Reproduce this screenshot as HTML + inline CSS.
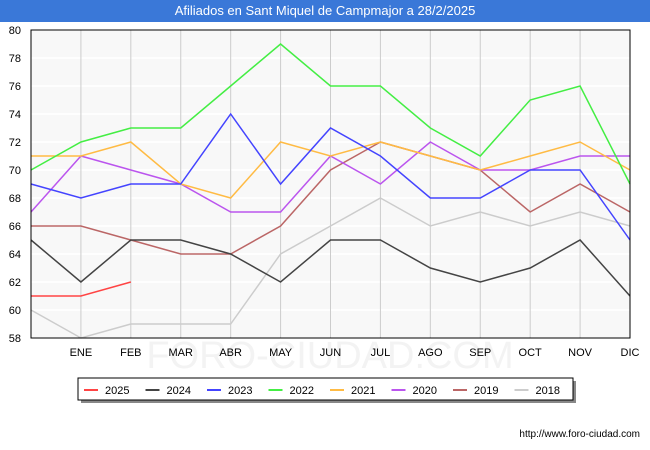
<!DOCTYPE html>
<html><head><meta charset="utf-8"><style>
body{margin:0;width:650px;height:450px;background:#fff;font-family:"Liberation Sans","DejaVu Sans",sans-serif;overflow:hidden}
#title{position:absolute;left:0;top:0;width:650px;height:22px;background:#3a78d8;color:#fff;font-size:13px;text-align:center;line-height:22px}
svg{position:absolute;left:0;top:0}
</style></head><body>
<div id="title">Afiliados en Sant Miquel de Campmajor a 28/2/2025</div>
<svg id="c" width="650" height="450"></svg>
<script>
const months=["","ENE","FEB","MAR","ABR","MAY","JUN","JUL","AGO","SEP","OCT","NOV","DIC"];
const yTicks=[58,60,62,64,66,68,70,72,74,76,78,80];
const seriesNames=["2025","2024","2023","2022","2021","2020","2019","2018"];
const colors=["#ff4444","#444444","#4444ff","#44ee44","#ffbb44","#bb55ee","#bb6666","#cccccc"];
const s2025=[61,61,62];
const s2024=[65,62,65,65,64,62,65,65,63,62,63,65,61];
const s2023=[69,68,69,69,74,69,73,71,68,68,70,70,65];
const s2022=[70,72,73,73,76,79,76,76,73,71,75,76,69];
const s2021=[71,71,72,69,68,72,71,72,71,70,71,72,70];
const s2020=[67,71,70,69,67,67,71,69,72,70,70,71,71];
const s2019=[66,66,65,64,64,66,70,72,71,70,67,69,67];
const s2018=[60,58,59,59,59,64,66,68,66,67,66,67,66];
const allSeries=[s2025,s2024,s2023,s2022,s2021,s2020,s2019,s2018];
const L=31,R=630,T=30,B=338,ymin=58,ymax=80;
const X=i=>L+(R-L)*i/12, Y=v=>B-(v-ymin)/(ymax-ymin)*(B-T);
const svg=document.getElementById('c');const NS="http://www.w3.org/2000/svg";
function mk(t,a,p){const e=document.createElementNS(NS,t);for(const k in a)e.setAttribute(k,a[k]);(p||svg).appendChild(e);return e;}
const wm=mk('text',{x:330,y:368,'text-anchor':'middle','font-size':38,fill:'#f3f3f3'});wm.textContent='FORO-CIUDAD.COM';

mk('rect',{x:L,y:T,width:R-L,height:B-T,fill:'#f8f8f8'});
for(let i=0;i<yTicks.length;i++){const v=yTicks[i];
 const g=mk('line',{x1:L,x2:R,y1:Y(v),y2:Y(v),stroke:'#ffffff','stroke-width':1.5});
 
 const t=mk('text',{x:L-10,y:Y(v)+4,'text-anchor':'end','font-size':11,fill:'#000'});t.textContent=v;
 }
for(let i=1;i<months.length;i++){
 const g=mk('line',{x1:X(i),x2:X(i),y1:T,y2:B,stroke:'#cccccc','stroke-width':1});
 
 const t=mk('text',{x:X(i),y:B+18,'text-anchor':'middle','font-size':11,fill:'#000'});t.textContent=months[i];
 }
for(let s=allSeries.length-1;s>=0;s--){const d=allSeries[s];
 const p=mk('polyline',{points:d.map((v,i)=>X(i)+','+Y(v)).join(' '),fill:'none',stroke:colors[s],'stroke-width':1.5});
 }
mk('rect',{x:L,y:T,width:R-L,height:B-T,fill:'none',stroke:'#000','stroke-width':1});
const lg=mk('g',{});
mk('rect',{x:81,y:381,width:495,height:22,fill:'#888'},lg);
mk('rect',{x:78,y:378,width:495,height:22,fill:'#fff',stroke:'#000','stroke-width':1},lg);
for(let s=0;s<seriesNames.length;s++){const x=84+s*61.5;
 const e=mk('g',{},lg);
 mk('line',{x1:x,x2:x+14,y1:390,y2:390,stroke:colors[s],'stroke-width':2},e);
 const t=mk('text',{x:x+21,y:394,'font-size':11,fill:'#000'},e);t.textContent=seriesNames[s];}
const u=mk('text',{x:640,y:437,'text-anchor':'end','font-size':10,fill:'#000'});u.textContent='http://www.foro-ciudad.com';

</script>
</body></html>
